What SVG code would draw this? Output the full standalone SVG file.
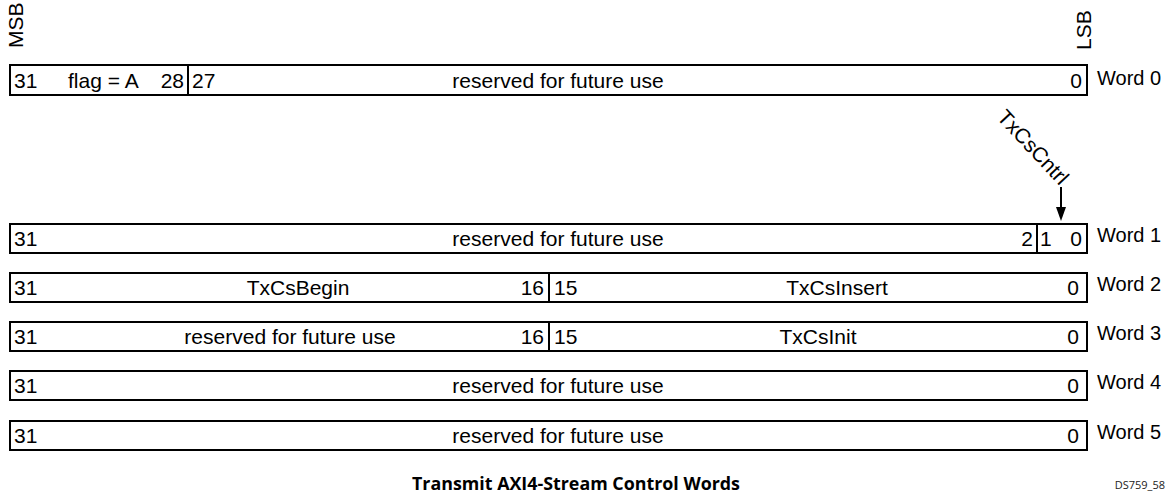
<svg xmlns="http://www.w3.org/2000/svg" width="1174" height="493" viewBox="0 0 1174 493">
<style>
.box{fill:#fff;stroke:#000;stroke-width:2}
.div{stroke:#000;stroke-width:2}
.t{font-family:"Liberation Sans",Arial,sans-serif;font-size:21px;fill:#000}
.e{text-anchor:end}
.m{text-anchor:middle}
.w{font-family:"Liberation Sans",Arial,sans-serif;font-size:20px;fill:#000}
</style>
<text class="t" transform="translate(23,48) rotate(-90)">MSB</text>
<text class="t" transform="translate(1091,50) rotate(-90)">LSB</text>

<g id="word0">
<rect class="box" x="10" y="65" width="1077" height="30"/>
<line class="div" x1="188" y1="65" x2="188" y2="95"/>
<text class="t" x="14" y="88">31</text>
<text class="t" x="68" y="88">flag = A</text>
<text class="t e" x="184" y="88">28</text>
<text class="t" x="192" y="88">27</text>
<text class="t m" x="558" y="88">reserved for future use</text>
<text class="t e" x="1082" y="88">0</text>
<text class="w" x="1097" y="85">Word 0</text>
</g>

<g id="word1">
<rect class="box" x="10" y="224" width="1077" height="29"/>
<line class="div" x1="1037" y1="224" x2="1037" y2="253"/>
<text class="t" x="14" y="246">31</text>
<text class="t m" x="558" y="246">reserved for future use</text>
<text class="t e" x="1033" y="246">2</text>
<text class="t" x="1040" y="246">1</text>
<text class="t e" x="1082" y="246">0</text>
<text class="w" x="1097" y="242">Word 1</text>
</g>

<g id="txcscntrl">
<text class="t" transform="translate(996,118) rotate(47)">TxCsCntrl</text>
</g>

<g id="word2">
<rect class="box" x="10" y="273" width="1077" height="29"/>
<line class="div" x1="549" y1="273" x2="549" y2="302"/>
<text class="t" x="14" y="295">31</text>
<text class="t m" x="298" y="295">TxCsBegin</text>
<text class="t e" x="544" y="295">16</text>
<text class="t" x="554" y="295">15</text>
<text class="t m" x="837" y="295">TxCsInsert</text>
<text class="t e" x="1079" y="295">0</text>
<text class="w" x="1097" y="291">Word 2</text>
</g>

<g id="word3">
<rect class="box" x="10" y="322" width="1077" height="29"/>
<line class="div" x1="549" y1="322" x2="549" y2="351"/>
<text class="t" x="14" y="344">31</text>
<text class="t m" x="290" y="344">reserved for future use</text>
<text class="t e" x="544" y="344">16</text>
<text class="t" x="554" y="344">15</text>
<text class="t m" x="818" y="344">TxCsInit</text>
<text class="t e" x="1079" y="344">0</text>
<text class="w" x="1097" y="340">Word 3</text>
</g>

<g id="word4">
<rect class="box" x="10" y="371" width="1077" height="29"/>
<text class="t" x="14" y="393">31</text>
<text class="t m" x="558" y="393">reserved for future use</text>
<text class="t e" x="1079" y="393">0</text>
<text class="w" x="1097" y="389">Word 4</text>
</g>

<g id="word5">
<rect class="box" x="10" y="421" width="1077" height="29"/>
<text class="t" x="14" y="443">31</text>
<text class="t m" x="558" y="443">reserved for future use</text>
<text class="t e" x="1079" y="443">0</text>
<text class="w" x="1097" y="439">Word 5</text>
</g>

<g id="connectors">
<line x1="1061" y1="187" x2="1061" y2="209" stroke="#000" stroke-width="2"/>
<polygon points="1056,207 1066,207 1061,221" fill="#000"/>
</g>

<text x="576" y="490" font-family="'Open Sans','Liberation Sans',sans-serif" font-weight="bold" font-size="17" text-anchor="middle" textLength="328" lengthAdjust="spacingAndGlyphs">Transmit AXI4-Stream Control Words</text>
<text x="1165" y="489" font-family="'Open Sans','Liberation Sans',sans-serif" font-size="11" fill="#222" text-anchor="end">DS759_58</text>
</svg>
